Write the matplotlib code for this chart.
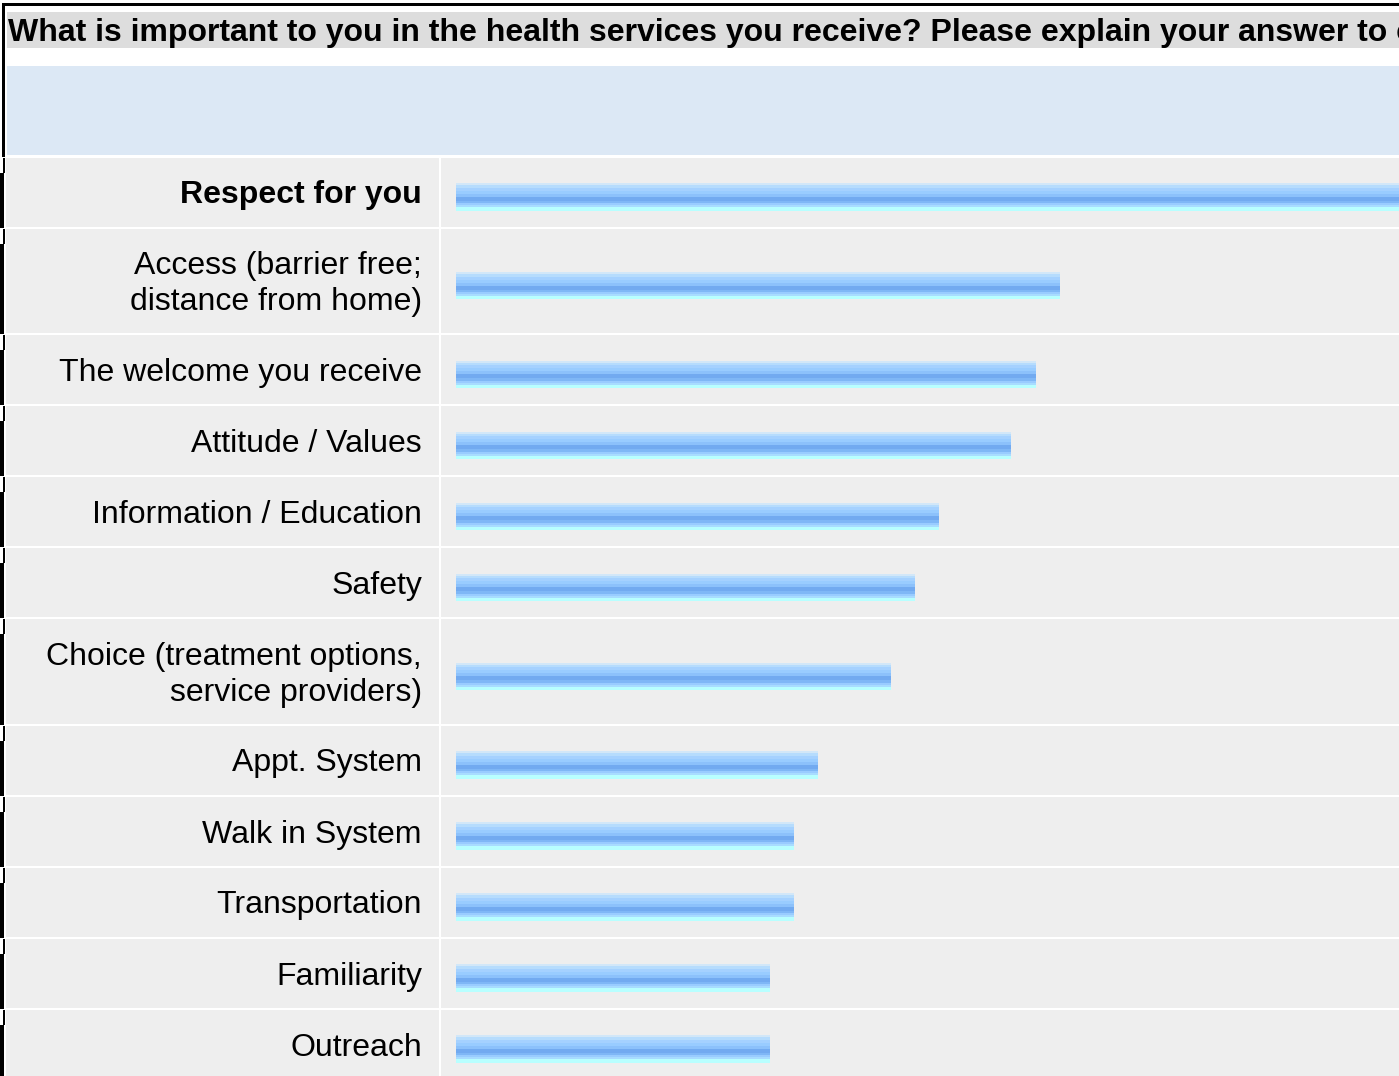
import matplotlib
matplotlib.use("Agg")
import matplotlib.pyplot as plt
from matplotlib.patches import Rectangle

# Survey responses: number of mentions per theme
title = ("What is important to you in the health services you receive? "
         "Please explain your answer to c")
categories = [
    "Respect for you",
    "Access (barrier free;\ndistance from home)",
    "The welcome you receive",
    "Attitude / Values",
    "Information / Education",
    "Safety",
    "Choice (treatment options,\nservice providers)",
    "Appt. System",
    "Walk in System",
    "Transportation",
    "Familiarity",
    "Outreach",
]
counts = [41, 25, 24, 23, 20, 19, 18, 15, 14, 14, 13, 13]
bold_rows = ["Respect for you"]

W, H = 1399, 1076
DPI = 100
FONT = "Liberation Sans"
FS = 23.0

fig = plt.figure(figsize=(W / DPI, H / DPI), dpi=DPI)
fig.patch.set_facecolor("white")

# Background / table layer in pixel coordinates
bg = fig.add_axes([0, 0, 1, 1])
bg.set_xlim(0, W)
bg.set_ylim(H, 0)
bg.axis("off")

def rect(x0, y0, x1, y1, color):
    bg.add_patch(Rectangle((x0, y0), x1 - x0, y1 - y0, facecolor=color,
                           edgecolor="none", linewidth=0))

# outer frame and title band
rect(2, 3, W, 5.5, "black")
rect(2, 3, 4.5, 157, "black")
rect(7, 12, W, 48, "#dddddd")
bg.text(8, 41.5, title, fontsize=FS, fontweight="bold",
        family=FONT, ha="left", va="baseline", color="black")
# header band
rect(7, 66, W, 155, "#dce8f5")

# rows
line_h = 35.5
y = 156.5
centers = []
for lab in categories:
    n = lab.count("\n") + 1
    h = line_h * (n + 1)
    top, bot = y + 1, y + h - 1
    rect(6, top, 438.5, bot, "#eeeeee")
    rect(441, top, W, bot, "#eeeeee")
    rect(0, top + 15, 4, bot + 1, "black")
    rect(3, top, 5, top + 15, "black")
    c = y + h / 2
    centers.append(c)
    lines = lab.split("\n")
    weight = "bold" if lab in bold_rows else "normal"
    for k, ln in enumerate(lines):
        base = c + 11.5 + (k - (len(lines) - 1) / 2) * 36
        bg.text(422, base, ln, fontsize=FS, family=FONT, fontweight=weight,
                ha="right", va="baseline", color="black")
    y += h

# Bar layer: x in count units
px_per_unit = 24.15
bar_left_px = 456
bx = fig.add_axes([bar_left_px / W, 0, (W - bar_left_px) / W, 1])
bx.set_xlim(0, (W - bar_left_px) / px_per_unit)
bx.set_ylim(H, 0)
bx.axis("off")
bx.patch.set_alpha(0)

# horizontal stripes forming the glossy gradient of each bar (top -> bottom)
stripes = [
    ("#d2e7f8", 2.0),
    ("#b6dcfd", 2.5),
    ("#a5d1ff", 3.0),
    ("#99ccff", 3.0),
    ("#8cc1fb", 3.0),
    ("#72aaf0", 4.0),
    ("#7fb7f6", 2.5),
    ("#99ccff", 2.0),
    ("#a8dcff", 2.0),
    ("#b8ffff", 3.0),
]
total = sum(h for _, h in stripes)
bar_centers = [c + 5 for c in centers]
offset = -total / 2
for color, h in stripes:
    ys = [bc + offset + h / 2 for bc in bar_centers]
    bx.barh(ys, counts, height=h + 0.3, left=0, color=color,
            linewidth=0, align="center")
    offset += h

fig.savefig("out.png", dpi=DPI, facecolor="white")
